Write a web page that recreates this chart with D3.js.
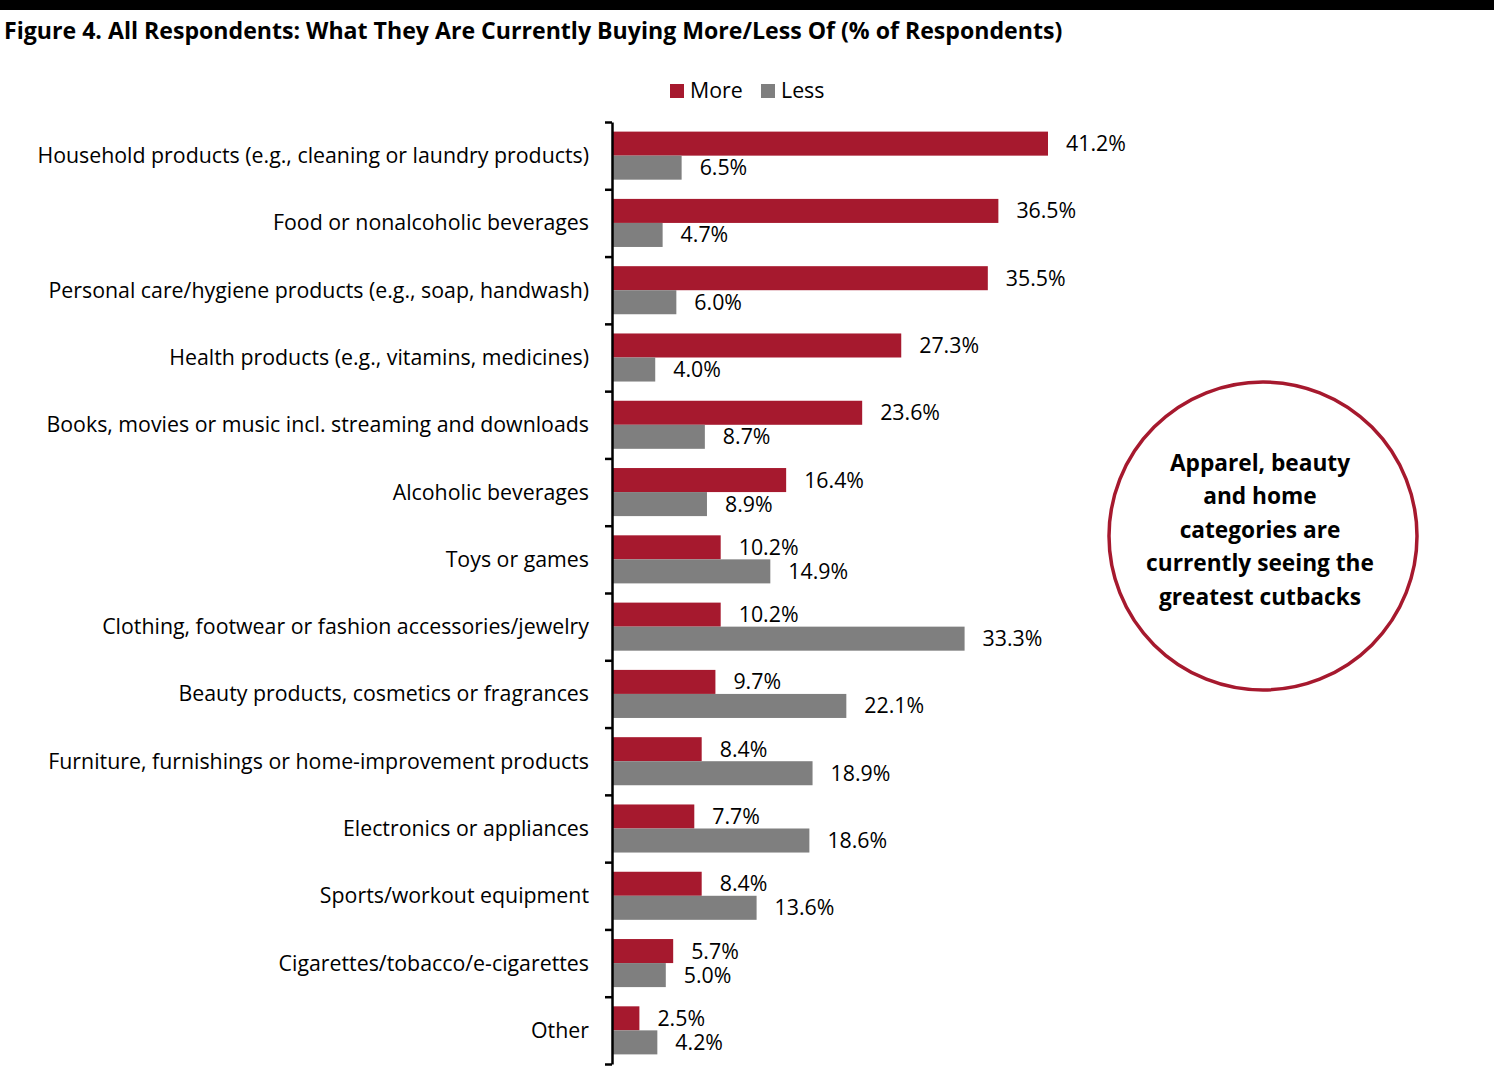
<!DOCTYPE html>
<html><head><meta charset="utf-8">
<script src="https://cdn.jsdelivr.net/npm/d3@7"></script>
<style>body{margin:0;background:#fff}svg{display:block}</style>
</head><body>
<script>
const categories = [
  "Household products (e.g., cleaning or laundry products)",
  "Food or nonalcoholic beverages",
  "Personal care/hygiene products (e.g., soap, handwash)",
  "Health products (e.g., vitamins, medicines)",
  "Books, movies or music incl. streaming and downloads",
  "Alcoholic beverages",
  "Toys or games",
  "Clothing, footwear or fashion accessories/jewelry",
  "Beauty products, cosmetics or fragrances",
  "Furniture, furnishings or home-improvement products",
  "Electronics or appliances",
  "Sports/workout equipment",
  "Cigarettes/tobacco/e-cigarettes",
  "Other"
];
const moreValues = [41.2, 36.5, 35.5, 27.3, 23.6, 16.4, 10.2, 10.2, 9.7, 8.4, 7.7, 8.4, 5.7, 2.5];
const lessValues = [6.5, 4.7, 6.0, 4.0, 8.7, 8.9, 14.9, 33.3, 22.1, 18.9, 18.6, 13.6, 5.0, 4.2];
const seriesNames = ["More", "Less"];
const titleText = "Figure 4. All Respondents: What They Are Currently Buying More/Less Of (% of Respondents)";
const calloutLines = ["Apparel, beauty", "and home", "categories are", "currently seeing the", "greatest cutbacks"];

const W = 1494, H = 1080;
const colors = {More: "#A6192E", Less: "#7F7F7F"};
const FONT = "'Open Sans', 'Noto Sans', sans-serif";

const svg = d3.select("body").append("svg").attr("width", W).attr("height", H);

// top black rule
svg.append("rect").attr("x", 0).attr("y", 0).attr("width", W).attr("height", 10).attr("fill", "#000");

function fitFont(sel, target, base) {
  const w = sel.node().getComputedTextLength();
  const fs = base * target / w;
  sel.attr("font-size", fs);
  return fs;
}

// title
const title = svg.append("text").attr("x", 4).attr("y", 39).attr("font-family", FONT)
  .attr("font-weight", 700).attr("font-size", 22).attr("fill", "#000").text(titleText);
fitFont(title, 1059, 22);

const data = categories.map((c, i) => ({cat: c, More: moreValues[i], Less: lessValues[i]}));

const y0 = 122, y1 = 1064, xAxis = 612;
const y = d3.scaleBand().domain(categories).range([y0, y1]).paddingInner(0).paddingOuter(0);
const ySub = d3.scaleBand().domain(seriesNames).range([0, y.bandwidth()]).paddingInner(0).paddingOuter(0.4);
const x = d3.scaleLinear().domain([0, 41.2]).range([xAxis + 1, 1048]);

// category labels (measure for size)
const probe = svg.append("text").attr("font-family", FONT).attr("font-size", 20).text(categories[0]);
const labelFs = fitFont(probe, 552, 20);
probe.remove();

const g = svg.append("g");
const groups = g.selectAll("g.cat").data(data).join("g").attr("class", "cat")
  .attr("transform", d => `translate(0,${y(d.cat)})`);

groups.selectAll("rect").data(d => seriesNames.map(s => ({s, v: d[s]}))).join("rect")
  .attr("x", x(0)).attr("y", d => ySub(d.s)).attr("width", d => x(d.v) - x(0))
  .attr("height", ySub.bandwidth()).attr("fill", d => colors[d.s]);

groups.selectAll("text.val").data(d => seriesNames.map(s => ({s, v: d[s]}))).join("text")
  .attr("class", "val").attr("x", d => x(d.v) + 18).attr("y", d => ySub(d.s) + ySub.bandwidth() / 2)
  .attr("dy", "0.35em").attr("font-family", FONT).attr("font-size", labelFs).attr("fill", "#000")
  .text(d => d.v.toFixed(1) + "%");

// category labels
svg.append("g").selectAll("text").data(categories).join("text")
  .attr("x", 589).attr("y", d => y(d) + y.bandwidth() / 2).attr("dy", "0.35em")
  .attr("text-anchor", "end").attr("font-family", FONT).attr("font-size", labelFs).attr("fill", "#000")
  .text(d => d);

// axis with ticks at band boundaries
const yb = d3.scaleLinear().domain([0, categories.length]).range([y0, y1]);
const axis = svg.append("g").attr("transform", `translate(${xAxis},0)`)
  .call(d3.axisLeft(yb).tickValues(d3.range(0, categories.length + 1)).tickSize(7).tickSizeOuter(0).tickFormat(""));
axis.selectAll("path,line").attr("stroke", "#000").attr("stroke-width", 2.5);

// legend
const legend = svg.append("g").attr("transform", "translate(670,84)");
const legX = [0, 91];
seriesNames.forEach((s, i) => {
  legend.append("rect").attr("x", legX[i]).attr("y", 0).attr("width", 14).attr("height", 14).attr("fill", colors[s]);
  legend.append("text").attr("x", legX[i] + 20).attr("y", 7).attr("dy", "0.35em")
    .attr("font-family", FONT).attr("font-size", labelFs).attr("fill", "#000").text(s);
});

// callout circle
const cx = 1263, cy = 536, r = 154;
svg.append("circle").attr("cx", cx).attr("cy", cy).attr("r", r).attr("fill", "#fff")
  .attr("stroke", "#A6192E").attr("stroke-width", 3.5);
const ct = svg.append("g");
calloutLines.forEach((l, i) => {
  ct.append("text").attr("x", cx - 3).attr("y", 463 + i * 33.5).attr("dy", "0.35em").attr("text-anchor", "middle")
    .attr("font-family", FONT).attr("font-weight", 700).attr("font-size", 22).attr("fill", "#000").text(l);
});
const p = ct.selectAll("text").filter((d, i) => i === 3);
const cfs = 22 * 228 / p.node().getComputedTextLength();
ct.selectAll("text").attr("font-size", cfs);
</script>
</body></html>
